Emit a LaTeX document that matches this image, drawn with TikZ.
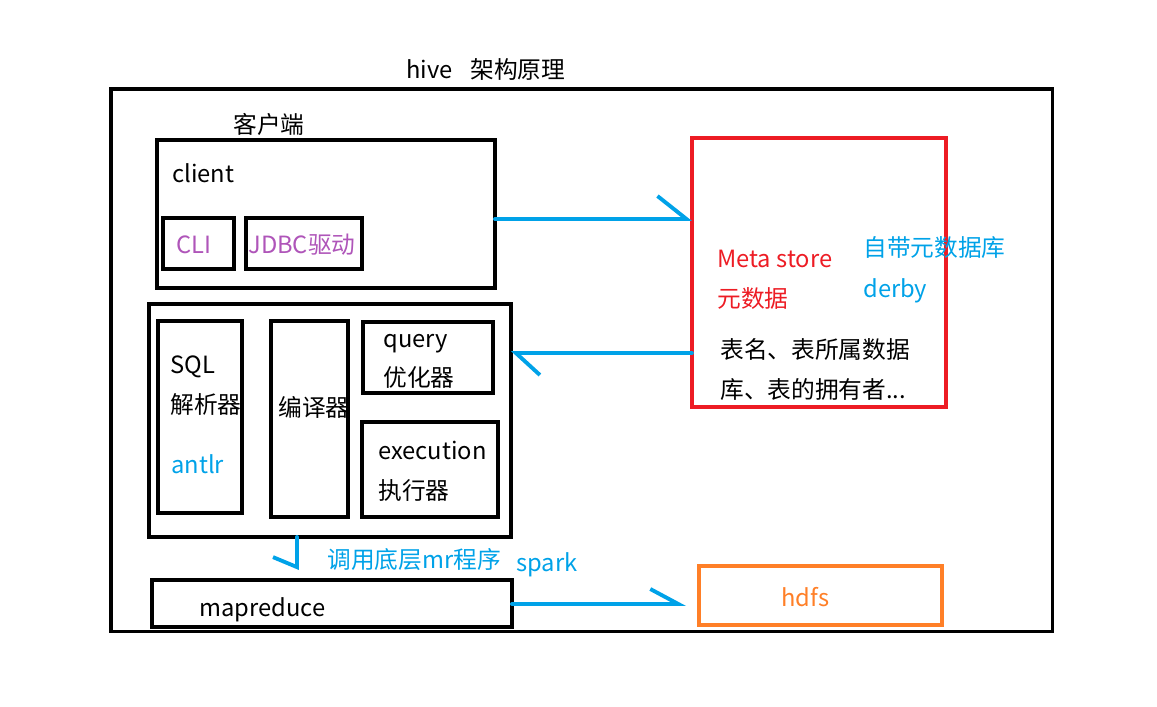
\documentclass[tikz,border=0pt]{standalone}
\usepackage{fontspec}
\setmainfont{Noto Sans CJK SC}
\usetikzlibrary{arrows.meta}
\definecolor{hiveblue}{RGB}{0,162,232}
\definecolor{hivered}{RGB}{237,28,36}
\definecolor{hiveorange}{RGB}{255,127,39}
\definecolor{hivepurple}{RGB}{175,85,185}

\begin{document}
\begin{tikzpicture}[x=0.02cm,y=-0.02cm,
  box/.style={draw,line width=1.8pt,inner sep=0pt,outer sep=0pt,anchor=north west},
  txt/.style={anchor=base west,inner sep=0pt,font=\fontsize{13.5}{16}\selectfont},
  flow/.style={hiveblue,line width=2.2pt,line cap=round}]
\useasboundingbox (0,0) rectangle (1157,707);

% frames
\node[box,minimum width=18.84cm,minimum height=10.86cm] (hive) at (111,89) {};
\node[box,minimum width=6.76cm,minimum height=2.96cm] (client) at (157,140) {};
\node[box,minimum width=1.42cm,minimum height=1.02cm] (cli) at (163,218) {};
\node[box,minimum width=2.32cm,minimum height=1.02cm] (jdbc) at (246,218) {};
\node[box,minimum width=7.24cm,minimum height=4.66cm] (engine) at (149,304) {};
\node[box,minimum width=1.68cm,minimum height=3.84cm] (parser) at (158,321) {};
\node[box,minimum width=1.54cm,minimum height=3.92cm] (compiler) at (271,321) {};
\node[box,minimum width=2.60cm,minimum height=1.42cm] (optimizer) at (363,322) {};
\node[box,minimum width=2.72cm,minimum height=1.90cm] (executor) at (362,422) {};
\node[box,hivered,minimum width=5.08cm,minimum height=5.38cm] (meta) at (692,138) {};
\node[box,minimum width=7.20cm,minimum height=0.94cm] (mr) at (152,580) {};
\node[box,hiveorange,minimum width=4.86cm,minimum height=1.18cm] (hdfs) at (699,566) {};

% texts
\node[txt] (title) at (406,78) {hive\hspace{0.75em}架构原理};
\node[txt] (clientcn) at (233,133) {客户端};
\node[txt] (clienttxt) at (172,182) {client};
\node[txt,hivepurple] (clitxt) at (176,253) {CLI};
\node[txt,hivepurple] (jdbctxt) at (248,253) {JDBC驱动};
\node[txt] (sqltxt) at (170,373) {SQL};
\node[txt] (parsertxt) at (170,413) {解析器};
\node[txt,hiveblue] (antlrtxt) at (171,473) {antlr};
\node[txt] (compilertxt) at (278,416) {编译器};
\node[txt] (querytxt) at (383,347) {query};
\node[txt] (optimizertxt) at (383,386) {优化器};
\node[txt] (exectxt) at (378,459) {execution};
\node[txt] (executortxt) at (378,499) {执行器};
\node[txt,hivered] (metatxt) at (717,267) {Meta store};
\node[txt,hivered] (metacn) at (717,307) {元数据};
\node[txt,hiveblue] (derbycn) at (863,256) {自带元数据库};
\node[txt,hiveblue] (derbytxt) at (863,297) {derby};
\node[txt] (tableinfo) at (720,358) {表名、表所属数据};
\node[txt] (tableowner) at (720,398) {库、表的拥有者...};
\node[txt] (mrtxt) at (199,616) {mapreduce};
\node[txt,hiveorange] (hdfstxt) at (781,606) {hdfs};
\node[txt,hiveblue] (calltxt) at (327,568) {调用底层mr程序};
\node[txt,hiveblue] (sparktxt) at (516,571) {spark};

% arrows
\coordinate (calltip) at (297,570);
\draw[flow,-{Straight Barb[left,length=0.58cm,width=0.92cm]}] (client.east |- 0,219) -- (meta.west |- 0,219);
\draw[flow,-{Straight Barb[left,length=0.48cm,width=0.88cm]}] (meta.west |- 0,353) -- (engine.east |- 0,353);
\draw[flow,-{Straight Barb[right,length=0.2cm,width=0.96cm]}] (engine.south -| calltip) -- (calltip);
\draw[flow,shorten >=0.26cm,-{Straight Barb[left,length=0.56cm,width=0.6cm]}] (mr.east |- 0,604) -- (hdfs.west |- 0,604);
\end{tikzpicture}
\end{document}
